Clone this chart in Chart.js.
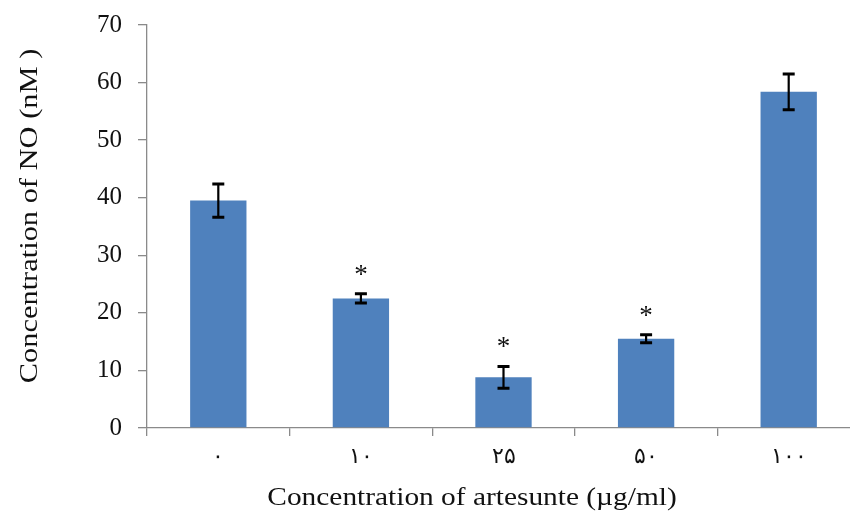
<!DOCTYPE html>
<html>
<head>
<meta charset="utf-8">
<script src="https://cdn.jsdelivr.net/npm/chart.js@4.4.1/dist/chart.umd.min.js"></script>
<style>
  html, body { margin: 0; padding: 0; background: #fff; overflow: hidden; width: 850px; height: 516px; }
  #wrap { width: 850px; height: 516px; overflow: hidden; }
  canvas { display: block; }
</style>
</head>
<body>
<div id="wrap"><canvas id="c" width="860" height="516"></canvas></div>
<script>
// Artesunate dose (µg/ml), written with Persian digits
const doseLabels = ['۰', '۱۰', '۲۵', '۵۰', '۱۰۰'];
// Mean NO concentration (nM)
const noMean = [39.5, 22.5, 8.8, 15.5, 58.4];
// Error (±) for each group
const noError = [2.9, 0.8, 1.9, 0.7, 3.1];
// Groups marked significant with an asterisk
const significant = [false, true, true, true, false];
// Y axis ticks
const yTicks = [0, 10, 20, 30, 40, 50, 60, 70];

const xTitleText = 'Concentration of artesunte (µg/ml)';
const yTitleText = 'Concentration of NO (nM )';

const serif = '"Liberation Serif", "Times New Roman", serif';
const axisGrey = '#8a8a8a';

const errorBars = {
  id: 'errorBars',
  afterDatasetsDraw(chart) {
    const ctx = chart.ctx;
    const meta = chart.getDatasetMeta(0);
    const y = chart.scales.y;
    ctx.save();
    ctx.strokeStyle = '#000';
    meta.data.forEach((bar, i) => {
      const x = bar.x;
      const hi = y.getPixelForValue(noMean[i] + noError[i]);
      const lo = y.getPixelForValue(noMean[i] - noError[i]);
      ctx.lineWidth = 2.2;
      ctx.beginPath();
      ctx.moveTo(x, hi); ctx.lineTo(x, lo);
      ctx.stroke();
      ctx.lineWidth = 3;
      ctx.beginPath();
      ctx.moveTo(x - 6, hi); ctx.lineTo(x + 6, hi);
      ctx.moveTo(x - 6, lo); ctx.lineTo(x + 6, lo);
      ctx.stroke();
      if (significant[i]) {
        ctx.fillStyle = '#111';
        ctx.font = '27px ' + serif;
        ctx.textAlign = 'center';
        ctx.textBaseline = 'middle';
        ctx.fillText('*', x, hi - 18);
      }
    });
    ctx.restore();
  }
};

// Axis titles in a wide-set serif
const axisTitles = {
  id: 'axisTitles',
  afterDraw(chart) {
    const ctx = chart.ctx;
    ctx.save();
    ctx.fillStyle = '#111';
    ctx.font = '26px ' + serif;
    ctx.textAlign = 'center';
    ctx.textBaseline = 'middle';
    ctx.save();
    ctx.translate(472, 498);
    ctx.scale(1.13, 1);
    ctx.fillText(xTitleText, 0, 0);
    ctx.restore();
    ctx.translate(30, 216);
    ctx.rotate(-Math.PI / 2);
    ctx.scale(1.17, 1);
    ctx.fillText(yTitleText, 0, 0);
    ctx.restore();
  }
};

new Chart(document.getElementById('c'), {
  type: 'bar',
  data: {
    labels: doseLabels,
    datasets: [{
      data: noMean,
      backgroundColor: '#4F81BD',
      borderWidth: 0,
      categoryPercentage: 1,
      barPercentage: 0.395
    }]
  },
  options: {
    responsive: false,
    animation: false,
    events: [],
    layout: { padding: { top: 0, right: 0, left: 0, bottom: 0 } },
    plugins: { legend: { display: false }, tooltip: { enabled: false } },
    scales: {
      x: {
        grid: {
          display: true, drawOnChartArea: false, offset: true,
          tickLength: 8, color: axisGrey, lineWidth: 1.3
        },
        border: { display: true, color: axisGrey, width: 1.3 },
        ticks: {
          color: '#111', padding: 8,
          font: { family: serif, size: 22 }
        },
        afterFit(s) { s.height = 88; }
      },
      y: {
        min: 0, max: 70,
        afterBuildTicks(s) { s.ticks = yTicks.map(v => ({ value: v })); },
        grid: {
          display: true, drawOnChartArea: false,
          tickLength: 9, color: axisGrey, lineWidth: 1.3
        },
        border: { display: true, color: axisGrey, width: 1.3 },
        ticks: {
          color: '#111', padding: 16,
          font: { family: serif, size: 25, lineHeight: 1.0 }
        },
        afterFit(s) { s.width = 147; s.paddingTop = 25; }
      }
    }
  },
  plugins: [errorBars, axisTitles]
});
</script>
</body>
</html>
